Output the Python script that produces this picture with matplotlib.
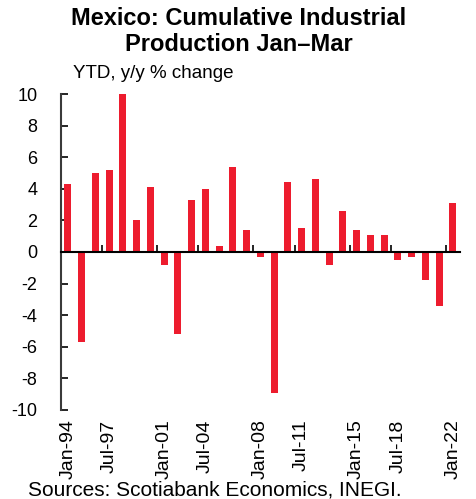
import matplotlib

matplotlib.use('Agg')
import numpy as np
import matplotlib.pyplot as plt
import matplotlib.transforms as mtransforms

# Jan-Mar cumulative industrial production, YTD y/y % change, 1994-2022
years = list(range(1994, 2023))
values = [4.3, -5.7, 5.0, 5.2, 10.0, 2.0, 4.1, -0.8, -5.2, 3.3,
          4.0, 0.4, 5.4, 1.4, -0.3, -8.9, 4.4, 1.5, 4.6, -0.8,
          2.6, 1.4, 1.1, 1.1, -0.5, -0.3, -1.8, -3.4, 3.1]
tick_labels = ['Jan-94', 'Jul-97', 'Jan-01', 'Jul-04', 'Jan-08',
               'Jul-11', 'Jan-15', 'Jul-18', 'Jan-22']
label_idx = [0, 3, 7, 10, 14, 17, 21, 24, 28]

plt.rcParams['font.family'] = ['Liberation Sans', 'DejaVu Sans']
plt.rcParams['axes.unicode_minus'] = False

bar_color = '#ED1C2E'

fig = plt.figure(figsize=(4.76, 4.99), dpi=100)
ax = fig.add_axes([0.128, 0.1784, 0.838, 0.6332])

x = np.arange(len(years))
ax.bar(x, values, width=0.5, color=bar_color, zorder=2)

ax.set_xlim(-0.5, len(years) - 0.5)
ax.set_ylim(-10, 10)
ax.set_yticks(np.arange(-10, 11, 2))
ax.tick_params(axis='y', direction='in', length=5, width=1.2, labelsize=13,
               pad=17, colors='black')

# x axis sits at zero, ticks between categories
for s in ['top', 'right']:
    ax.spines[s].set_visible(False)
ax.spines['bottom'].set_position(('data', 0))
ax.spines['bottom'].set_linewidth(1.5)
ax.spines['left'].set_linewidth(1.5)
ax.spines['left'].set_color('#3a3a3a')
ax.set_xticks([i - 0.5 for i in label_idx[1:]])
ax.set_xticklabels([])
ax.tick_params(axis='x', direction='in', length=5, width=1.2)

# category labels along the bottom of the plot area
trans = mtransforms.blended_transform_factory(ax.transData, ax.transAxes)
for i, lab in zip(label_idx, tick_labels):
    ax.text(i, -0.03, lab, transform=trans, rotation=90, ha='center', va='top',
            fontsize=14)

fig.text(0.502, 0.937, 'Mexico: Cumulative Industrial\nProduction Jan\u2013Mar',
         ha='center', va='center', fontsize=17, fontweight='bold', linespacing=1.2)
fig.text(0.153, 0.853, 'YTD, y/y % change', ha='left', va='center', fontsize=13.5)
fig.text(0.059, 0.018, 'Sources: Scotiabank Economics, INEGI.', ha='left',
         va='center', fontsize=15)

plt.savefig('out.png', dpi=100)
